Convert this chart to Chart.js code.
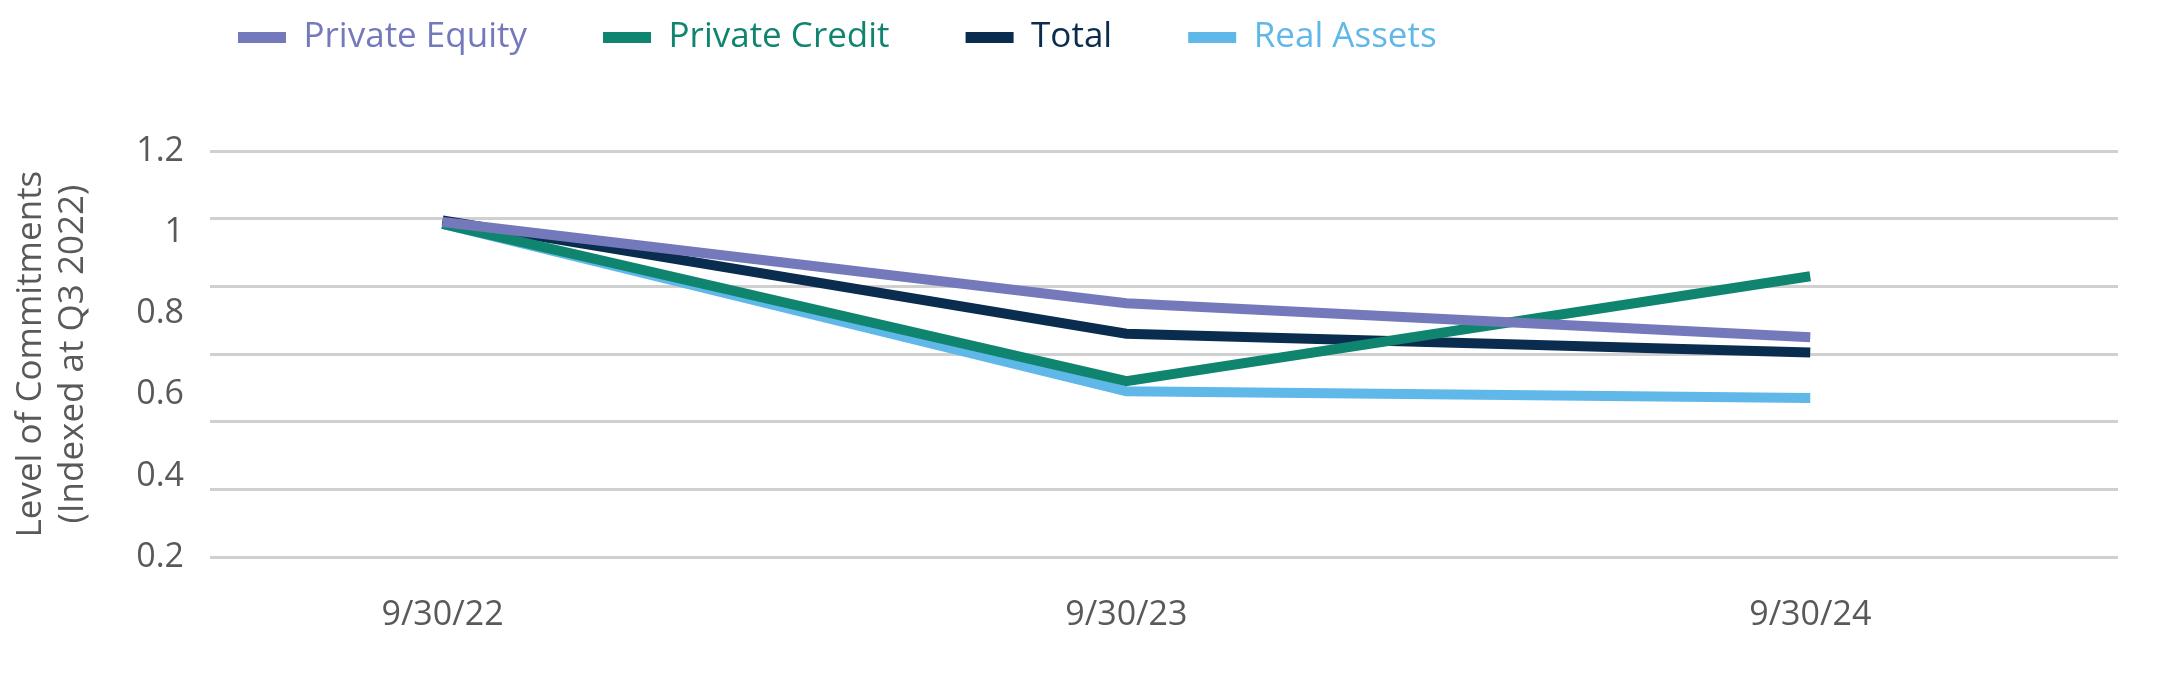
<!DOCTYPE html>
<html>
<head>
<meta charset="utf-8">
<script src="https://cdn.jsdelivr.net/npm/chart.js@4"></script>
<style>
  html, body { margin: 0; padding: 0; background: #fff; }
  #wrap { width: 2164px; height: 680px; }
</style>
</head>
<body>
<div id="wrap"><canvas id="chart"></canvas></div>
<script>
const categories = ['9/30/22', '9/30/23', '9/30/24'];
const yTickLabels = ['1.2', '1', '0.8', '0.6', '0.4', '0.2'];
const privateEquity = [0.99, 0.75, 0.65];
const privateCredit = [0.985, 0.52, 0.83];
const total = [0.995, 0.66, 0.605];
const realAssets = [0.985, 0.49, 0.47];

const font = "'Open Sans', sans-serif";
const toPoints = vals => vals.map((v, i) => ({ x: i, y: v }));

// y labels in the source are spread evenly from top to bottom grid line
const yLabelPlugin = {
  id: 'yLabels',
  afterDraw(chart) {
    const ctx = chart.ctx, area = chart.chartArea;
    const step = (area.bottom - area.top) / (yTickLabels.length - 1);
    ctx.save();
    ctx.font = '34px ' + font;
    ctx.fillStyle = '#595959';
    ctx.textAlign = 'right';
    ctx.textBaseline = 'middle';
    yTickLabels.forEach((t, i) => ctx.fillText(t, area.left - 26, area.top + i * step));
    ctx.restore();
  }
};

// nudge legend to match source position
const legendPos = {
  id: 'legendPos',
  beforeInit(chart) {
    const orig = chart.legend.fit;
    chart.legend.fit = function () { orig.call(this); this.height += 30; };
  },
  afterLayout(chart) {
    chart.legend.left += 152;
    chart.legend.top -= 56;
  }
};

function ds(label, data, color) {
  return {
    label, data: toPoints(data), borderColor: color, backgroundColor: color,
    borderWidth: 10, pointRadius: 0, tension: 0, borderCapStyle: 'butt'
  };
}

new Chart(document.getElementById('chart'), {
  type: 'line',
  data: {
    datasets: [
      ds('Private Equity', privateEquity, '#7479bb'),
      ds('Private Credit', privateCredit, '#0f8570'),
      ds('Total', total, '#0a2d4f'),
      ds('Real Assets', realAssets, '#5fb8e8')
    ]
  },
  options: {
    responsive: true,
    maintainAspectRatio: false,
    animation: false,
    layout: { padding: { left: 10, right: 46, top: 0, bottom: 14 } },
    plugins: {
      tooltip: { enabled: false },
      legend: {
        position: 'top',
        align: 'start',
        labels: {
          boxWidth: 48,
          boxHeight: 11,
          padding: 76,
          font: { family: font, size: 35 },
          generateLabels(chart) {
            return chart.data.datasets.map((d, i) => ({
              text: d.label, fillStyle: d.borderColor, strokeStyle: d.borderColor,
              lineWidth: 0, fontColor: d.borderColor, datasetIndex: i
            }));
          }
        }
      }
    },
    scales: {
      x: {
        type: 'linear',
        min: -0.34,
        max: 2.45,
        grid: { display: false },
        border: { display: false },
        afterBuildTicks(axis) { axis.ticks = categories.map((c, i) => ({ value: i })); },
        ticks: {
          padding: 30,
          color: '#595959',
          font: { family: font, size: 34 },
          callback: v => categories[v]
        }
      },
      y: {
        min: 0,
        max: 1.2,
        ticks: { stepSize: 0.2, display: false },
        grid: { color: '#d0d0d0', lineWidth: 3, drawTicks: false },
        border: { display: false },
        afterFit(axis) { axis.width = 200; },
        title: {
          display: true,
          text: ['Level of Commitments', '(Indexed at Q3 2022)'],
          color: '#595959',
          font: { family: font, size: 35 },
          padding: 0
        }
      }
    }
  },
  plugins: [yLabelPlugin, legendPos]
});
</script>
</body>
</html>
